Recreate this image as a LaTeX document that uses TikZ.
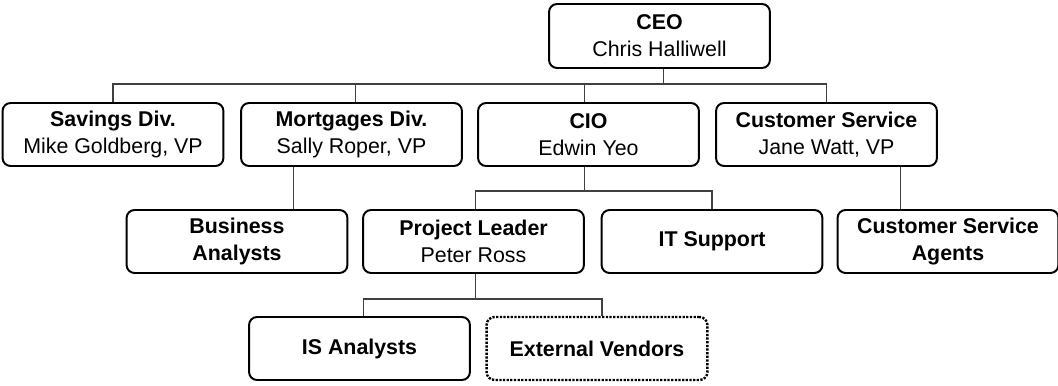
\documentclass[tikz,border=0pt]{standalone}
\usepackage{fontspec}
\setmainfont{Liberation Sans}
\usepackage{tikz}

\begin{document}
\begin{tikzpicture}[x=0.025cm, y=-0.025cm,
    box/.style={draw, line width=1.4pt, rounded corners=0.2cm, align=center,
        minimum width=5.52cm, minimum height=1.575cm, inner sep=2pt,
        font=\fontsize{15.2}{19.2}\selectfont},
    outside/.style={box, line width=1.7pt, dash pattern=on 1.6pt off 1pt},
    link/.style={draw=black!75, line width=0.8pt}]
    \useasboundingbox (0,0) rectangle (1058,386);

    % top
    \node[box, minimum height=1.6cm] (ceo) at (659.5,36) {\textbf{CEO}\\Chris Halliwell};

    % divisions
    \node[box] (sav) at (113,134.5) {\textbf{Savings Div.}\\Mike Goldberg, VP};
    \node[box] (mort) at (351.5,134.5) {\textbf{Mortgages Div.}\\Sally Roper, VP};
    \node[box] (cio) at (588.5,134.5) {\textbf{CIO}\\Edwin Yeo};
    \node[box] (cs) at (826.5,134.5) {\textbf{Customer Service}\\Jane Watt, VP};

    % second level
    \node[box] (ba) at (237,241.5) {\textbf{Business}\\\textbf{Analysts}};
    \node[box] (pl) at (473.5,241.5) {\textbf{Project Leader}\\Peter Ross};
    \node[box] (its) at (712,241.5) {\textbf{IT Support}};
    \node[box] (csa) at (948,241.5) {\textbf{Customer Service}\\\textbf{Agents}};

    % third level
    \node[box] (isa) at (359.5,348.5) {\textbf{IS Analysts}};
    \node[outside] (ev) at (597,348.5) {\textbf{External Vendors}};

    \coordinate (bus1) at (0,84);
    \coordinate (bus2) at (0,191);
    \coordinate (bus3) at (0,299);

    % ceo to divisions
    \draw[link] ([xshift=0.09cm]ceo.south) -- ([xshift=0.09cm]ceo.south |- bus1);
    \draw[link] (sav.north) |- (bus1 -| cs.north) -- (cs.north);
    \draw[link] ([xshift=0.11cm]mort.north) -- ([xshift=0.11cm]mort.north |- bus1);
    \draw[link] ([xshift=-0.11cm]cio.north) -- ([xshift=-0.11cm]cio.north |- bus1);

    % divisions to second level
    \draw[link] ([xshift=-1.44cm]mort.south) -- ([xshift=-1.44cm]mort.south |- ba.north);
    \draw[link] ([xshift=-0.11cm]cio.south) -- ([xshift=-0.11cm]cio.south |- bus2);
    \draw[link] ([xshift=0.04cm]pl.north) |- (bus2 -| its.north) -- (its.north);
    \draw[link] ([xshift=1.86cm]cs.south) -- ([xshift=1.86cm]cs.south |- csa.north);

    % project leader to third level
    \draw[link] ([xshift=0.04cm]pl.south) -- ([xshift=0.04cm]pl.south |- bus3);
    \draw[link] ([xshift=0.11cm]isa.north) |- ([xshift=0.125cm]bus3 -| ev.north) -- ([xshift=0.125cm]ev.north);

\end{tikzpicture}
\end{document}
